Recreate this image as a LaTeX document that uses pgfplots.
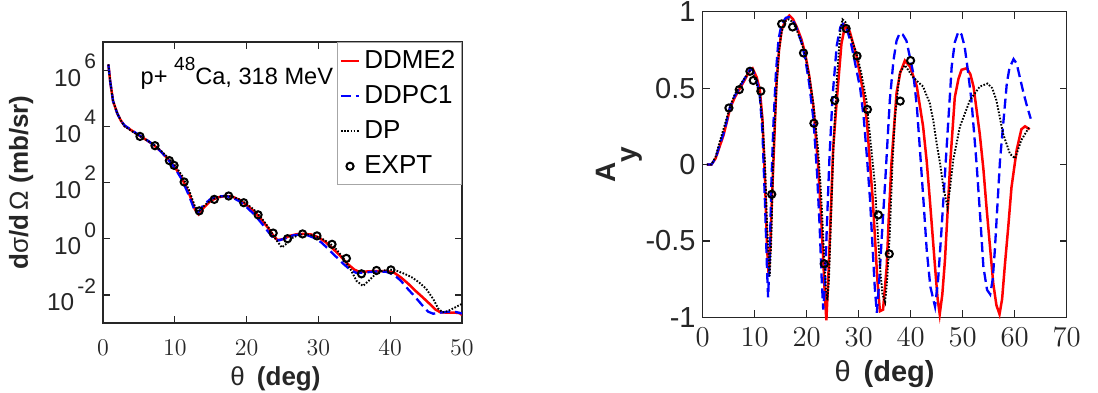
\documentclass[border=0pt]{standalone}
\usepackage{pgfplots}
\pgfplotsset{compat=1.18}
\usepackage{fontspec}
\setmainfont{Liberation Sans}
\definecolor{axcol}{RGB}{38,38,38}
\newcommand\tp[1]{10\hspace{1.5pt}\raisebox{0.72em}{\fontsize{10.5}{10.5}\selectfont #1}}
\begin{document}
\begin{tikzpicture}
\useasboundingbox (0pt,0pt) rectangle (549pt,196pt);
\pgfplotsset{
  every axis/.append style={
    scale only axis,
    axis line style={draw=axcol, line width=0.6pt},
    tick style={draw=axcol, line width=0.6pt},
    major tick length=3.5pt,
    tick align=inside,
    minor tick num=0,
    legend image code/.code={
      \draw[mark repeat=2,mark phase=2,#1]
      plot coordinates {(0cm,0cm) (0.16cm,0cm) (0.32cm,0cm)};},
  },
  ddme/.style={red, line width=1.25pt, no marks},
  ddpc/.style={blue, line width=1.15pt, dash pattern=on 5pt off 2.5pt, no marks},
  dp/.style={black, line width=0.95pt, dash pattern=on 0.8pt off 0.8pt, no marks},
  expt/.style={only marks, mark=o, mark size=1.8pt, black, mark options={line width=1pt}},
}
% ---------------- left: cross section ----------------
\begin{axis}[
  at={(51.5pt,34.5pt)}, anchor=south west,
  width=179.5pt, height=140.5pt,
  xmin=0, xmax=50, ymode=log, ymin=1e-3, ymax=1e7,
  xtick={0,10,20,30,40,50},
  ytick={1e-2,1,1e2,1e4,1e6},
  yticklabels={\tp{-2},\tp{0},\tp{2},\tp{4},\tp{6}},
  yminorticks=false,
  tick label style={font=\fontsize{12.2}{12.2}\selectfont, text=axcol},
  xticklabel style={yshift=-5pt},
  xlabel={θ\hspace{6pt}\textbf{(deg)}},
  xlabel style={xshift=-3.5pt, yshift=1.5pt},
  ylabel={\textbf{d}σ\textbf{/d}\,Ω\ \textbf{(mb/sr)}},
  label style={font=\fontsize{13}{13}\selectfont, text=axcol},
  legend style={at={(1,1)}, anchor=north east, draw=gray!70, line width=0.6pt,
    font=\fontsize{13}{14}\selectfont, inner xsep=1pt, inner ysep=2pt,
    row sep=3pt, cells={anchor=west}},
  legend cell align=left,
]
\addplot[ddme] coordinates {
(0.75,1.585e6) (1.0,3.981e5) (1.4,7.943e4) (2.0,2.818e4) (2.5,1.585e4) (3.0,1.047e4) (4.0,7079) (5.0,4786) (6.0,3311) (7.0,2239) (8.0,1318) (9.0,707.9) (10.0,354.8) (11.0,141.3) (12.0,39.81) (12.8,11.22) (13.3,7.413) (14.0,12.59) (15.0,22.39) (16.0,29.51) (17.0,33.11) (18.0,31.62) (19.0,23.99) (20.0,15.85) (21.0,9.550) (22.0,5.012) (23.0,2.399) (23.7,1.318) (24.3,0.8913) (25.0,0.9550) (26.0,1.259) (27.0,1.445) (28.0,1.479) (29.0,1.413) (30.0,1.122) (31.0,0.7586) (32.0,0.4467) (33.0,0.2512) (34.0,0.1318) (35.0,0.07943) (35.7,0.06607) (36.5,0.06761) (38.0,0.07079) (39.5,0.07079) (40.5,0.06310) (41.5,0.04169) (42.5,0.02512) (43.5,0.01413) (44.5,0.008318) (45.5,0.004786) (46.3,0.003020) (47.0,0.002399) (48.0,0.002344) (49.0,0.002344) (49.7,0.002239) (50.0,0.001905)
};
\addlegendentry{DDME2}
\addplot[ddpc] coordinates {
(0.75,1.585e6) (1.0,3.981e5) (1.4,7.943e4) (2.0,2.818e4) (2.5,1.585e4) (3.0,1.072e4) (4.0,7244) (5.0,4898) (6.0,3388) (7.0,2239) (8.0,1318) (9.0,691.8) (10.0,331.1) (11.0,125.9) (12.0,33.11) (12.7,11.22) (13.2,8.318) (14.0,15.85) (15.0,26.30) (16.0,31.62) (17.0,33.11) (18.0,29.51) (19.0,21.38) (20.0,13.18) (21.0,7.586) (22.0,3.802) (23.0,1.778) (23.8,1.000) (24.5,0.8710) (25.5,1.047) (26.5,1.318) (27.5,1.413) (28.5,1.318) (29.5,1.047) (30.5,0.7079) (31.5,0.3981) (32.5,0.2239) (33.5,0.1259) (34.5,0.07586) (35.3,0.06026) (36.5,0.06310) (38.0,0.06761) (39.5,0.06607) (40.5,0.05248) (41.5,0.03162) (42.5,0.01585) (43.5,0.008318) (44.5,0.004169) (45.3,0.002512) (46.0,0.002138) (47.0,0.002344) (48.0,0.002512) (49.0,0.002512) (50.0,0.002188)
};
\addlegendentry{DDPC1}
\addplot[dp] coordinates {
(0.75,1.585e6) (1.0,3.981e5) (1.4,7.943e4) (2.0,2.818e4) (2.5,1.585e4) (3.0,1.0e4) (4.0,6761) (5.0,4677) (6.0,3311) (7.0,2291) (8.0,1413) (9.0,794.3) (10.0,416.9) (11.0,177.8) (12.0,52.48) (12.8,14.13) (13.3,8.913) (14.0,14.13) (15.0,23.44) (16.0,30.20) (17.0,33.11) (18.0,31.62) (19.0,25.12) (20.0,17.38) (21.0,10.96) (22.0,5.754) (23.0,2.630) (24.0,1.000) (24.9,0.4898) (25.7,0.7079) (26.5,1.122) (27.5,1.413) (28.5,1.413) (29.5,1.259) (30.5,1.000) (31.5,0.7079) (32.5,0.4169) (33.5,0.1995) (34.5,0.07943) (35.3,0.03162) (36.2,0.02089) (37.0,0.03162) (38.0,0.05623) (39.0,0.07413) (40.0,0.07943) (41.0,0.07079) (42.0,0.05623) (43.0,0.04266) (44.0,0.02818) (45.0,0.01660) (46.0,0.007079) (46.7,0.003236) (47.3,0.002399) (48.0,0.002630) (49.0,0.003548) (50.0,0.004786)
};
\addlegendentry{DP}
\addplot[expt] coordinates {
(5.15,4365) (7.24,2042) (9.24,602.6) (9.9,407.4) (11.3,104.7) (13.4,9.772) (15.5,25.12) (17.5,33.11) (19.6,19.05) (21.6,7.079) (23.7,1.585) (25.7,1.000) (27.8,1.479) (29.8,1.259) (31.9,0.6310) (33.9,0.1995) (36.0,0.05623) (38.1,0.07413) (40.1,0.07762)
};
\addlegendentry{EXPT}
\node[anchor=base west, font=\fontsize{11.8}{11.8}\selectfont, text=black, inner sep=0pt]
  at (axis cs:5.2,3.0e5) {p+ \raisebox{0.6em}{\fontsize{9.5}{9.5}\selectfont 48}Ca, 318 MeV};
\end{axis}
% ---------------- right: analysing power ----------------
\begin{axis}[
  at={(351.3pt,37.35pt)}, anchor=south west,
  width=182pt, height=152.8pt,
  xmin=0, xmax=70, ymin=-1, ymax=1,
  clip=false,
  xtick={0,10,20,30,40,50,60,70},
  ytick={-1,-0.5,0,0.5,1},
  yticklabels={-1,-0.5,0,0.5,1},
  tick label style={font=\fontsize{14.5}{14.5}\selectfont, text=axcol},
  xticklabel style={yshift=-2pt},
  xlabel={θ\hspace{6.5pt}\textbf{(deg)}},
  xlabel style={font=\fontsize{14.5}{14.5}\selectfont},
  ylabel={\textbf{A\raisebox{-0.75em}{y}}},
  ylabel style={font=\fontsize{14}{14}\selectfont, yshift=-5pt},
  label style={text=axcol},
]
\addplot[ddme] coordinates {
(0.8,0) (1.7,0) (2.5,0.04) (3.3,0.12) (4.0,0.19) (4.6,0.27) (5.3,0.37) (6.2,0.44) (7.2,0.50) (8.2,0.56) (9.1,0.62) (9.6,0.63) (10.4,0.57) (11.0,0.49) (11.5,0.30) (12.0,-0.10) (12.4,-0.55) (12.7,-0.72) (13.0,-0.55) (13.3,-0.25) (13.6,0.0) (14.2,0.53) (14.7,0.75) (15.2,0.88) (16.0,0.95) (16.7,0.975) (17.4,0.95) (18.1,0.90) (19.0,0.82) (19.7,0.73) (20.5,0.58) (21.3,0.38) (22.2,0.0) (22.8,-0.35) (23.2,-0.62) (23.5,-0.85) (23.8,-1.02) (24.1,-0.80) (24.5,-0.45) (25.1,0.1) (25.8,0.42) (26.7,0.79) (27.4,0.91) (28.3,0.87) (29.6,0.71) (30.9,0.47) (31.6,0.28) (32.2,0.0) (32.7,-0.22) (33.1,-0.45) (33.6,-0.75) (34.1,-0.96) (34.7,-0.95) (35.4,-0.67) (35.8,-0.35) (36.3,0.0) (37.3,0.47) (38.0,0.60) (38.9,0.68) (39.9,0.64) (41.2,0.51) (42.4,0.25) (43.1,0.02) (43.7,-0.23) (44.2,-0.45) (44.7,-0.67) (45.2,-0.88) (45.6,-0.98) (46.1,-0.85) (46.6,-0.63) (47.1,-0.32) (47.6,0.0) (48.5,0.44) (49.2,0.56) (49.8,0.62) (50.8,0.63) (51.5,0.59) (52.1,0.51) (53.3,0.20) (54.0,-0.03) (54.6,-0.28) (55.3,-0.55) (55.9,-0.78) (56.5,-0.92) (57.1,-0.98) (57.6,-0.88) (58.1,-0.67) (58.8,-0.40) (59.4,-0.15) (60.4,0.095) (61.3,0.23) (62.0,0.25) (62.9,0.23)
};
\addplot[ddpc] coordinates {
(0.8,0) (1.7,0) (2.5,0.04) (3.3,0.13) (4.0,0.20) (4.6,0.28) (5.3,0.38) (6.2,0.45) (7.2,0.51) (8.2,0.57) (9.1,0.62) (9.6,0.62) (10.4,0.55) (11.0,0.45) (11.5,0.22) (12.0,-0.25) (12.4,-0.70) (12.6,-0.87) (12.9,-0.60) (13.2,-0.15) (13.6,0.25) (14.1,0.60) (14.6,0.82) (15.2,0.92) (16.0,0.96) (16.6,0.965) (17.4,0.94) (18.1,0.89) (19.0,0.80) (19.7,0.70) (20.5,0.53) (21.3,0.30) (22.0,-0.05) (22.5,-0.40) (22.9,-0.75) (23.2,-0.95) (23.5,-0.80) (23.9,-0.40) (24.4,0.05) (25.0,0.45) (25.8,0.78) (26.5,0.90) (27.0,0.92) (27.7,0.89) (28.5,0.80) (29.4,0.65) (30.3,0.50) (31.0,0.30) (31.6,0.05) (32.2,-0.23) (32.7,-0.55) (33.1,-0.80) (33.5,-0.97) (33.9,-0.80) (34.5,-0.45) (35.1,-0.12) (36.0,0.42) (36.7,0.68) (37.3,0.81) (37.9,0.86) (38.5,0.85) (39.2,0.81) (40.5,0.60) (41.2,0.38) (41.8,0.095) (42.5,-0.25) (43.1,-0.56) (43.8,-0.80) (44.7,-0.93) (45.3,-0.75) (45.9,-0.45) (46.9,0.095) (47.9,0.64) (48.5,0.80) (49.2,0.87) (49.8,0.85) (50.4,0.77) (51.0,0.62) (51.7,0.42) (52.7,0.0) (53.4,-0.35) (54.0,-0.67) (54.7,-0.82) (55.3,-0.85) (55.8,-0.75) (56.2,-0.56) (57.2,0.03) (58.5,0.53) (59.0,0.63) (59.8,0.69) (60.4,0.66) (61.7,0.47) (62.4,0.38) (63.1,0.30)
};
\addplot[dp] coordinates {
(0.8,0) (1.7,0) (2.5,0.05) (3.3,0.15) (4.0,0.23) (4.6,0.30) (5.3,0.38) (6.2,0.46) (7.2,0.52) (8.2,0.57) (9.1,0.61) (9.6,0.60) (10.4,0.53) (11.0,0.44) (11.5,0.30) (12.0,0.0) (12.4,-0.40) (12.9,-0.73) (13.2,-0.50) (13.6,0.05) (14.2,0.50) (14.7,0.75) (15.2,0.87) (16.0,0.94) (16.6,0.95) (17.4,0.93) (18.1,0.88) (19.0,0.80) (19.7,0.72) (20.5,0.58) (21.3,0.40) (22.2,0.10) (22.8,-0.20) (23.3,-0.55) (23.7,-0.80) (24.0,-0.89) (24.3,-0.75) (24.7,-0.35) (25.2,0.15) (25.9,0.60) (26.5,0.88) (26.9,0.95) (27.5,0.93) (28.3,0.85) (29.6,0.73) (30.5,0.60) (31.5,0.42) (32.3,0.15) (33.1,-0.12) (33.6,-0.40) (34.1,-0.67) (34.6,-0.85) (35.1,-0.90) (35.5,-0.75) (36.0,-0.45) (36.5,0.0) (37.0,0.31) (37.9,0.60) (38.9,0.65) (40.5,0.57) (42.4,0.51) (43.7,0.40) (44.4,0.28) (45.0,0.14) (45.7,0.0) (46.3,-0.15) (47.1,-0.28) (47.6,-0.15) (48.2,0.03) (49.5,0.25) (51.4,0.42) (53.3,0.51) (54.8,0.53) (55.7,0.50) (56.5,0.42) (57.8,0.20) (59.1,0.07) (60.1,0.04) (61.3,0.16) (62.9,0.25)
};
\addplot[expt] coordinates {
(5.06,0.37) (7.05,0.49) (9.1,0.61) (9.74,0.55) (11.2,0.48) (13.3,-0.195) (15.2,0.92) (17.3,0.90) (19.4,0.73) (21.4,0.27) (23.4,-0.65) (25.4,0.42) (27.6,0.89) (29.7,0.71) (31.7,0.36) (33.8,-0.33) (35.9,-0.585) (38.0,0.415) (40.0,0.68)
};
\end{axis}
\end{tikzpicture}
\end{document}
